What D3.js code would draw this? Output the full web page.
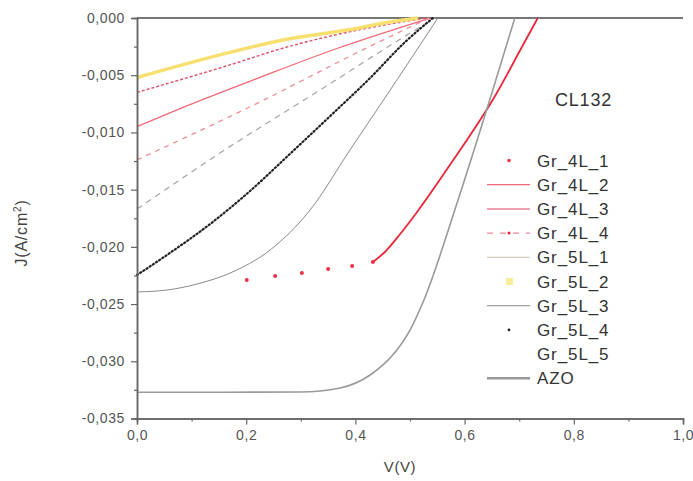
<!DOCTYPE html>
<html><head><meta charset="utf-8">
<script src="https://cdn.jsdelivr.net/npm/d3@7"></script>
<style>
html,body{margin:0;padding:0;background:#fff;}
svg{display:block;font-family:"Liberation Sans",Arial,sans-serif;}
</style></head>
<body><svg id="c" width="693" height="481"></svg>
<script>
// ---- data (V in volts, J in A/cm^2) ----
const xTicks = [0, 0.2, 0.4, 0.6, 0.8, 1.0];
const yTicks = [0, -0.005, -0.010, -0.015, -0.020, -0.025, -0.030, -0.035];
const legendNames = ["Gr_4L_1","Gr_4L_2","Gr_4L_3","Gr_4L_4","Gr_5L_1","Gr_5L_2","Gr_5L_3","Gr_5L_4","Gr_5L_5","AZO"];

const gr4L1_V = [0.201, 0.253, 0.302, 0.350, 0.394, 0.432, 0.454, 0.482, 0.513, 0.573, 0.659, 0.702, 0.734];
const gr4L1_J = [-0.0229, -0.02255, -0.02228, -0.02193, -0.02167, -0.02132, -0.02045, -0.01888, -0.01695, -0.01285, -0.00655, -0.0028, 0];
const gr4L2_V = [0, 0.09, 0.23, 0.37, 0.537];
const gr4L2_J = [-0.0095, -0.0077, -0.0051, -0.0026, 0];
const gr4L3_V = [0, 0.17, 0.27, 0.40, 0.53];
const gr4L3_J = [-0.0065, -0.0041, -0.0026, -0.0011, 0];
const gr4L4_V = [0, 0.231, 0.40, 0.535];
const gr4L4_J = [-0.0124, -0.0072, -0.0031, 0];
const gr5L1_V = [0, 0.152, 0.335, 0.518, 0.546];
const gr5L1_J = [-0.0167, -0.0118, -0.0063, -0.0008, 0];
const gr5L2_V = [0, 0.17, 0.27, 0.385, 0.463, 0.515];
const gr5L2_J = [-0.0052, -0.0030, -0.0019, -0.00105, -0.00035, 0];
const gr5L3_V = [0, 0.055, 0.110, 0.183, 0.244, 0.317, 0.390, 0.476, 0.551];
const gr5L3_J = [-0.02394, -0.02377, -0.02325, -0.02202, -0.02027, -0.01678, -0.01154, -0.00542, 0];
const gr5L4_V = [0, 0.060, 0.134, 0.207, 0.280, 0.354, 0.427, 0.491, 0.542];
const gr5L4_J = [-0.02246, -0.02054, -0.0180, -0.01512, -0.01188, -0.00856, -0.00524, -0.0021, 0];
const gr5L5_V = [];
const gr5L5_J = [];
const azo_V = [0, 0.150, 0.299, 0.372, 0.427, 0.473, 0.500, 0.524, 0.588, 0.646, 0.692];
const azo_J = [-0.0327, -0.0327, -0.03268, -0.03233, -0.0312, -0.02919, -0.02727, -0.02482, -0.0159, -0.00717, 0];

const seriesV = [gr4L1_V, gr4L2_V, gr4L3_V, gr4L4_V, gr5L1_V, gr5L2_V, gr5L3_V, gr5L4_V, gr5L5_V, azo_V];
const seriesJ = [gr4L1_J, gr4L2_J, gr4L3_J, gr4L4_J, gr5L1_J, gr5L2_J, gr5L3_J, gr5L4_J, gr5L5_J, azo_J];

// ---- styles ----
const styles = [
  {stroke:"#e8283a", width:1.8, dash:null, dotColor:"#ee3048", dotR:2, lineFrom:5},
  {stroke:"#f06a78", width:1.3, dash:null},
  {stroke:"#e0506a", width:1.4, dash:"3,2", legendStroke:"#f0a0b0", legendWidth:2, legendSolid:true},
  {stroke:"#f28a98", width:1.3, dash:"5,5", legendDot:"#e8283a"},
  {stroke:"#a8a4a0", width:1.2, dash:"6,5", legendStroke:"#d8ccc0", legendSolid:true},
  {stroke:"#f8e070", width:3.5, dash:null, legendSquare:"#f6ee9a"},
  {stroke:"#8a8a8a", width:1.0, dash:null},
  {stroke:"#222", width:2.2, dash:"1.2,2.6", cap:"round", legendOnlyDot:"#222"},
  {stroke:"none", width:0},
  {stroke:"#9a9a9a", width:1.6, dash:null, legendWidth:2.5}
];

const svg = d3.select("#c");
const x = d3.scaleLinear().domain([0, 1]).range([137, 683]);
const y = d3.scaleLinear().domain([-0.035, 0]).range([418.5, 18]);
const fmt = (d, n) => d3.format("." + n + "f")(d).replace(".", ",").replace("−", "-");

// top frame line
svg.append("line").attr("x1", x(0)).attr("x2", x(1)).attr("y1", y(0)).attr("y2", y(0))
  .attr("stroke", "#777").attr("stroke-width", 2);

// curves
const line = d3.line().x(d => x(d[0])).y(d => y(d[1])).curve(d3.curveMonotoneX);
const plot = svg.append("g");
seriesV.forEach((vs, i) => {
  const st = styles[i];
  const pts = vs.map((v, k) => [v, seriesJ[i][k]]);
  if (!pts.length || st.stroke === "none") return;
  const linePts = st.lineFrom != null ? pts.slice(st.lineFrom) : pts;
  plot.append("path").datum(linePts).attr("d", line)
    .attr("fill", "none").attr("stroke", st.stroke).attr("stroke-width", st.width)
    .attr("stroke-dasharray", st.dash).attr("stroke-linecap", st.cap || "butt");
  if (st.dotColor) {
    plot.selectAll(null).data(pts.slice(0, st.lineFrom + 1)).enter().append("circle")
      .attr("cx", d => x(d[0])).attr("cy", d => y(d[1])).attr("r", st.dotR).attr("fill", st.dotColor);
  }
});

// axes
const gx = svg.append("g").attr("transform", `translate(0,${y(-0.035)})`)
  .call(d3.axisBottom(x).tickValues(xTicks).tickFormat(d => fmt(d, 1)).tickSize(6).tickPadding(6));
const gxm = svg.append("g").attr("transform", `translate(0,${y(-0.035)})`)
  .call(d3.axisBottom(x).tickValues([0.1, 0.3, 0.5, 0.7, 0.9]).tickFormat("").tickSize(3));
const gy = svg.append("g").attr("transform", `translate(${x(0)},0)`)
  .call(d3.axisLeft(y).tickValues(yTicks).tickFormat(d => fmt(d, 3)).tickSize(6).tickPadding(6));
const gym = svg.append("g").attr("transform", `translate(${x(0)},0)`)
  .call(d3.axisLeft(y).tickValues([-0.0025, -0.0075, -0.0125, -0.0175, -0.0225, -0.0275, -0.0325]).tickFormat("").tickSize(3));
[gx, gxm, gy, gym].forEach(g => {
  g.select(".domain").attr("stroke", "#666").attr("stroke-width", 1.5);
  g.selectAll(".tick line").attr("stroke", "#666").attr("stroke-width", 1.2);
  g.selectAll(".tick text").attr("fill", "#555").style("font-size", "14px")
    .style("letter-spacing", "0.6px").style("font-family", '"Liberation Sans",Arial,sans-serif');
});

// axis titles
svg.append("text").attr("x", 400).attr("y", 472).attr("text-anchor", "middle")
  .attr("fill", "#444").style("font-size", "15px").style("letter-spacing", "0.6px").text("V(V)");
const yt = svg.append("text").attr("transform", "translate(27,233) rotate(-90)").attr("text-anchor", "middle")
  .attr("fill", "#444").style("font-size", "16px").style("letter-spacing", "0.8px");
yt.append("tspan").text("J(A/cm");
yt.append("tspan").attr("dy", -6).style("font-size", "10px").text("2");
yt.append("tspan").attr("dy", 6).text(")");

// annotation
svg.append("text").attr("x", 555).attr("y", 106).attr("fill", "#333")
  .style("font-size", "18px").style("letter-spacing", "0.8px").text("CL132");

// legend
const lg = svg.append("g");
legendNames.forEach((name, i) => {
  const cy = 160.5 + i * 24.2;
  const st = styles[i];
  if (st.dotColor) {
    lg.append("circle").attr("cx", 509).attr("cy", cy).attr("r", 1.8).attr("fill", st.dotColor);
  } else if (st.legendOnlyDot) {
    lg.append("circle").attr("cx", 509).attr("cy", cy).attr("r", 1.4).attr("fill", st.legendOnlyDot);
  } else if (st.legendSquare) {
    lg.append("rect").attr("x", 506).attr("y", cy - 3.5).attr("width", 7).attr("height", 7).attr("fill", st.legendSquare);
  } else if (st.stroke !== "none") {
    lg.append("line").attr("x1", 487).attr("x2", 530).attr("y1", cy).attr("y2", cy)
      .attr("stroke", st.legendStroke || st.stroke).attr("stroke-width", st.legendWidth || Math.min(st.width, 2))
      .attr("stroke-dasharray", (st.dash && !st.legendSolid) ? "6,7" : null);
    if (st.legendDot) lg.append("circle").attr("cx", 509).attr("cy", cy).attr("r", 1.5).attr("fill", st.legendDot);
  }
  lg.append("text").attr("x", 537).attr("y", cy + 6).attr("fill", "#333")
    .style("font-size", "17px").style("letter-spacing", "0.9px").text(name);
});
</script></body></html>
